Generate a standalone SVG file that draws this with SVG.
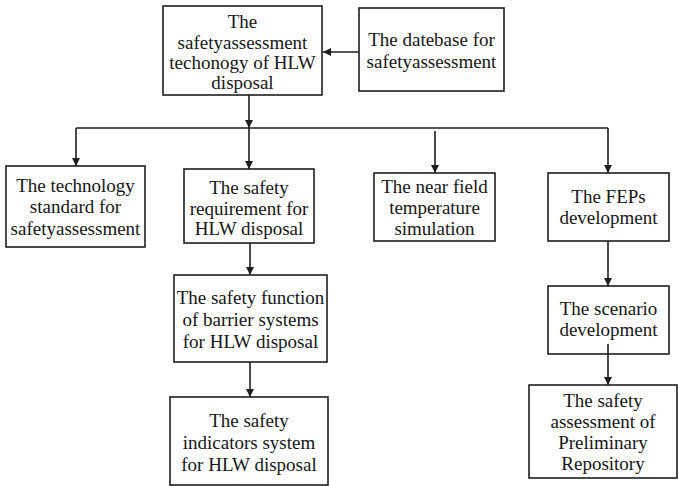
<svg xmlns="http://www.w3.org/2000/svg" width="678" height="486" viewBox="0 0 678 486">
  <style>
    .box { fill: #ffffff; stroke: #1e1e1e; stroke-width: 1.6; }
    .lbl { font-family: "Liberation Serif", "Times New Roman", serif; font-size: 19px; fill: #161616; text-anchor: middle; }
    .wire { fill: none; stroke: #1e1e1e; stroke-width: 1.6; }
  </style>
  <defs>
    <marker id="tip" viewBox="0 0 10 10" refX="10" refY="5" markerWidth="8" markerHeight="8" markerUnits="userSpaceOnUse" orient="auto">
      <path d="M0,0 L10,5 L0,10 Z" fill="#1e1e1e"/>
    </marker>
  </defs>
  <rect width="678" height="486" fill="#ffffff"/>

  <g id="tech">
    <rect class="box" x="163" y="6" width="159" height="89"/>
    <text class="lbl" x="242.5" y="28">The</text>
    <text class="lbl" x="242.5" y="49">safetyassessment</text>
    <text class="lbl" x="242.5" y="69">techonogy of HLW</text>
    <text class="lbl" x="242.5" y="89">disposal</text>
  </g>

  <g id="database">
    <rect class="box" x="359" y="8" width="145" height="83"/>
    <text class="lbl" x="431.5" y="46">The datebase for</text>
    <text class="lbl" x="431.5" y="68">safetyassessment</text>
  </g>

  <g id="standard">
    <rect class="box" x="6" y="166" width="139" height="81"/>
    <text class="lbl" x="75.5" y="192">The technology</text>
    <text class="lbl" x="75.5" y="213">standard for</text>
    <text class="lbl" x="75.5" y="235">safetyassessment</text>
  </g>

  <g id="requirement">
    <rect class="box" x="184" y="169" width="130" height="74"/>
    <text class="lbl" x="249" y="194">The safety</text>
    <text class="lbl" x="249" y="215">requirement for</text>
    <text class="lbl" x="249" y="235">HLW disposal</text>
  </g>

  <g id="nearfield">
    <rect class="box" x="374" y="173" width="121" height="68"/>
    <text class="lbl" x="434.5" y="193">The near field</text>
    <text class="lbl" x="434.5" y="214">temperature</text>
    <text class="lbl" x="434.5" y="235">simulation</text>
  </g>

  <g id="feps">
    <rect class="box" x="548" y="173" width="121" height="68"/>
    <text class="lbl" x="608.5" y="203">The FEPs</text>
    <text class="lbl" x="608.5" y="224">development</text>
  </g>

  <g id="barrier">
    <rect class="box" x="174" y="275" width="153" height="87"/>
    <text class="lbl" x="250.5" y="304">The safety function</text>
    <text class="lbl" x="250.5" y="326">of barrier systems</text>
    <text class="lbl" x="250.5" y="348">for HLW disposal</text>
  </g>

  <g id="indicators">
    <rect class="box" x="170" y="397" width="158" height="88"/>
    <text class="lbl" x="249" y="427">The safety</text>
    <text class="lbl" x="249" y="449">indicators system</text>
    <text class="lbl" x="249" y="471">for HLW disposal</text>
  </g>

  <g id="scenario">
    <rect class="box" x="548" y="286" width="121" height="68"/>
    <text class="lbl" x="608.5" y="315">The scenario</text>
    <text class="lbl" x="608.5" y="336">development</text>
  </g>

  <g id="repository">
    <rect class="box" x="529" y="385" width="148" height="93"/>
    <text class="lbl" x="603" y="407">The safety</text>
    <text class="lbl" x="603" y="428">assessment of</text>
    <text class="lbl" x="603" y="449">Preliminary</text>
    <text class="lbl" x="603" y="470">Repository</text>
  </g>

  <g id="connectors">
    <line class="wire" x1="359" y1="52" x2="323" y2="52" marker-end="url(#tip)"/>
    <line class="wire" x1="249" y1="95" x2="249" y2="128" marker-end="url(#tip)"/>
    <line class="wire" x1="76" y1="128" x2="608" y2="128"/>
    <line class="wire" x1="76" y1="128" x2="76" y2="166" marker-end="url(#tip)"/>
    <line class="wire" x1="249" y1="128" x2="249" y2="169" marker-end="url(#tip)"/>
    <line class="wire" x1="435" y1="131" x2="435" y2="173" marker-end="url(#tip)"/>
    <line class="wire" x1="608" y1="128" x2="608" y2="173" marker-end="url(#tip)"/>
    <line class="wire" x1="250" y1="243" x2="250" y2="275" marker-end="url(#tip)"/>
    <line class="wire" x1="250" y1="362" x2="250" y2="397" marker-end="url(#tip)"/>
    <line class="wire" x1="608" y1="241" x2="608" y2="286" marker-end="url(#tip)"/>
    <line class="wire" x1="608" y1="344" x2="608" y2="385" marker-end="url(#tip)"/>
  </g>
</svg>
